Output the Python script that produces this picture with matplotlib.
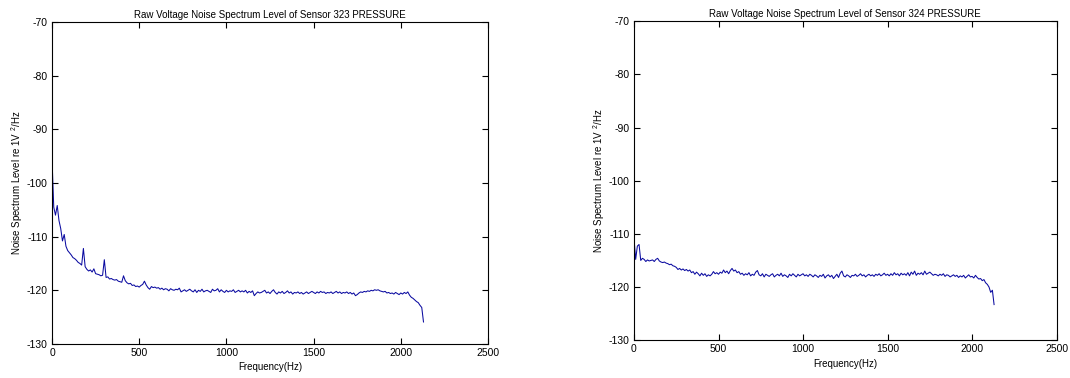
import numpy as np
import matplotlib
matplotlib.use("Agg")
import matplotlib.pyplot as plt

BIN_HZ = 10  # spacing of the spectrum bins

# sensor 323, level in dB re 1V^2/Hz, one value per 10 Hz bin from 0 Hz
level_323 = [
    -95.5, -104.5, -106.0, -104.2, -107.0, -108.5, -110.8, -109.6, -111.8, -112.6,
    -113.0, -113.4, -113.9, -114.1, -114.4, -114.8, -115.0, -115.3, -112.2, -115.6,
    -116.1, -116.4, -116.2, -116.6, -116.0, -116.9, -117.0, -117.1, -117.3, -117.2,
    -114.3, -117.6, -117.5, -117.9, -117.8, -118.0, -118.1, -118.0, -118.3, -118.4,
    -118.5, -117.3, -118.2, -118.6, -118.8, -118.7, -119.1, -119.0, -119.3, -119.2,
    -119.4, -119.1, -118.9, -118.3, -119.0, -119.5, -119.8, -119.3, -119.5, -119.4,
    -119.6, -119.5, -119.8, -119.6, -119.9, -119.7, -119.8, -120.1, -119.7, -119.9,
    -120.0, -119.8, -119.9, -119.6, -120.3, -120.1, -119.9, -120.2, -120.0, -119.8,
    -120.1, -120.3, -119.9, -120.4, -120.0, -120.2, -119.8, -120.3, -120.1, -120.0,
    -120.2, -120.4, -119.8, -120.1, -120.0, -119.7, -120.3, -119.9, -120.2, -120.4,
    -120.0, -120.3, -120.1, -120.2, -119.9, -120.4, -120.2, -120.0, -120.3, -120.1,
    -120.3, -120.0, -120.5, -120.2, -120.4, -120.1, -121.0, -120.6, -120.3, -120.5,
    -120.4, -120.2, -120.0, -120.5, -120.3, -120.6, -120.2, -119.9, -120.4, -120.7,
    -120.3, -120.5, -120.2, -120.6, -120.4, -120.1, -120.5, -120.3, -120.7, -120.4,
    -120.5, -120.3, -120.6, -120.4, -120.7, -120.5, -120.3, -120.6, -120.4, -120.2,
    -120.4, -120.6, -120.3, -120.5, -120.2, -120.4, -120.3, -120.6, -120.4, -120.5,
    -120.3, -120.6, -120.4, -120.2, -120.5, -120.3, -120.6, -120.4, -120.5, -120.3,
    -120.6, -120.4, -120.7, -120.5, -121.0, -120.8, -120.5, -120.3, -120.4, -120.2,
    -120.3, -120.1, -120.2, -120.0, -120.1, -119.9, -120.0, -119.9, -120.1, -120.2,
    -120.3, -120.2, -120.5, -120.4, -120.6, -120.5, -120.7, -120.4, -120.6, -120.8,
    -120.5, -120.7, -120.4, -120.6, -120.3, -120.9, -121.3, -121.5, -121.8, -122.1,
    -122.3, -122.8, -123.2, -125.9,
]

# sensor 324
level_324 = [
    -110.8, -114.8, -112.3, -112.0, -115.0, -114.6, -114.8, -115.2, -114.9, -115.1,
    -115.0, -114.9, -115.2, -114.8, -114.6, -115.1, -115.3, -115.4, -115.3, -115.5,
    -115.6, -115.8, -115.7, -116.0, -116.1, -116.3, -116.7, -116.5, -116.8, -116.6,
    -116.9, -116.7, -117.0, -116.8, -117.3, -117.1, -117.6, -117.2, -117.5, -117.9,
    -117.4, -117.8, -117.5, -118.0, -117.7, -117.9, -117.6, -117.1, -117.5, -117.3,
    -117.6, -117.2, -117.4, -116.8, -117.3, -117.0, -117.5, -116.9, -116.5, -117.0,
    -116.8, -117.3, -117.1, -117.6, -117.4, -117.8, -117.5, -117.7, -117.3, -117.9,
    -117.6, -117.8, -117.2, -116.9, -117.7, -117.9, -117.5, -118.1, -117.6, -117.8,
    -118.0, -117.7, -117.5, -118.1, -117.8, -117.6, -117.9, -117.4, -118.0, -117.7,
    -117.9, -118.2, -117.6, -117.9, -117.5, -117.8, -118.1, -117.6, -117.9, -117.7,
    -117.5, -117.9, -117.7, -118.0, -117.6, -117.8, -118.1, -117.7, -117.9, -118.2,
    -117.8, -118.0, -117.6, -118.3, -117.9, -117.7, -118.1, -117.8, -118.4, -118.0,
    -117.6, -118.2, -117.4, -117.0, -117.9, -118.1, -117.7, -117.9, -118.2, -117.8,
    -117.9, -117.6, -118.0, -117.8, -117.5, -117.9, -117.7, -118.1, -117.8, -117.6,
    -117.9, -117.7, -118.0, -117.6, -117.8, -117.5, -117.9, -117.7, -117.4, -117.8,
    -117.6, -117.9, -117.5, -117.8, -117.3, -117.7, -117.5, -117.9, -117.4, -117.7,
    -117.5, -117.8, -117.3, -117.9, -117.2, -117.6, -117.0, -117.8, -117.4, -117.6,
    -117.3, -117.7, -117.0, -117.6, -117.4, -117.2, -117.5, -117.8, -117.6, -117.7,
    -117.9, -117.6, -117.8, -117.5, -118.0, -117.7, -117.8, -118.1, -117.9, -117.7,
    -118.0, -117.8, -118.2, -117.9, -118.1, -117.8, -118.3, -118.0, -117.7, -118.1,
    -118.0, -118.3, -117.8, -118.2, -118.5, -118.4, -118.8, -118.6, -119.2, -119.5,
    -120.0, -121.0, -120.6, -123.3,
]

sensors = ["323", "324"]
levels = [level_323, level_324]
x_ticks = [0, 500, 1000, 1500, 2000, 2500]
y_ticks = [-130, -120, -110, -100, -90, -80, -70]

plt.rcParams['font.family'] = ['Liberation Sans', 'DejaVu Sans']
plt.rcParams['mathtext.default'] = 'regular'
plt.rcParams['axes.unicode_minus'] = False
plt.rcParams['font.size'] = 7

fig = plt.figure(figsize=(10.7, 3.78), dpi=100)
rects = [[0.0486, 0.090, 0.4075, 0.852], [0.5925, 0.100, 0.395, 0.844]]

for rect, name, lev in zip(rects, sensors, levels):
    ax = fig.add_axes(rect)
    freq = np.arange(len(lev)) * BIN_HZ
    ax.plot(freq, lev, color='#0a0aa0', linewidth=0.75)
    ax.set_xlim(0, 2500)
    ax.set_ylim(-130, -70)
    ax.set_xticks(x_ticks)
    ax.set_yticks(y_ticks)
    ax.tick_params(direction='in', length=4, width=0.8, top=True, right=True,
                   labelsize=7.5, pad=3)
    for sp in ax.spines.values():
        sp.set_linewidth(0.8)
    ax.set_title("Raw Voltage Noise Spectrum Level of Sensor %s PRESSURE" % name,
                 fontsize=7, pad=3)
    ax.set_xlabel("Frequency(Hz)", fontsize=7, labelpad=3)
    ax.set_ylabel("Noise Spectrum Level re 1V $^{2}$/Hz", fontsize=7, labelpad=1)

fig.savefig("out.png", dpi=100)
